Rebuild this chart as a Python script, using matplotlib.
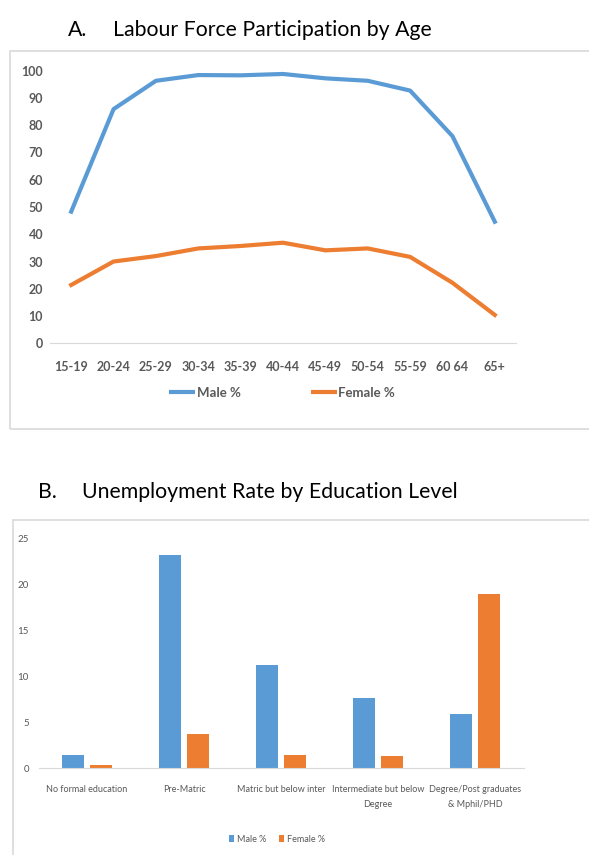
import matplotlib.pyplot as plt
from matplotlib.patches import Rectangle

# age groups and participation rates (%)
age_groups = ['15-19', '20-24', '25-29', '30-34', '35-39', '40-44',
              '45-49', '50-54', '55-59', '60 64', '65+']
male_lfp = [48.3, 85.9, 96.3, 98.4, 98.3, 98.8, 97.2, 96.3, 92.7, 76.0, 44.6]
female_lfp = [21.4, 30.0, 32.0, 34.8, 35.7, 36.9, 34.1, 34.8, 31.7, 22.2, 10.4]

# education levels and unemployment rates (%)
edu_levels = ['No formal education', 'Pre-Matric', 'Matric but below inter',
              'Intermediate but below\nDegree', 'Degree/Post graduates\n& Mphil/PHD']
male_unemp = [1.4, 23.2, 11.2, 7.6, 5.9]
female_unemp = [0.4, 3.7, 1.5, 1.3, 19.0]

BLUE = '#5B9BD5'
ORANGE = '#ED7D31'
GREY = '#595959'
W, H = 589, 855

plt.rcParams['font.family'] = ['Lato', 'DejaVu Sans']

fig = plt.figure(figsize=(W / 100, H / 100), dpi=100)


def px_axes(x0, y0, x1, y1):
    # axes from pixel box (top-left origin)
    return fig.add_axes([x0 / W, 1 - y1 / H, (x1 - x0) / W, (y1 - y0) / H])


def px_box(x0, y0, x1, y1):
    fig.patches.append(Rectangle((x0 / W, 1 - y1 / H), (x1 - x0) / W, (y1 - y0) / H,
                                 transform=fig.transFigure, fill=False,
                                 edgecolor='#D9D9D9', linewidth=1.2))


def title(x_letter, x_text, y, letter, text):
    fig.text(x_letter / W, 1 - y / H, letter, fontsize=15.3, va='center', color='black')
    fig.text(x_text / W, 1 - y / H, text, fontsize=15.3, va='center', color='black')


# ---- A. line chart ----
title(68, 113, 30, 'A.', 'Labour Force Participation by Age')
px_box(10, 51, 600, 429)

ax1 = px_axes(50, 70.7, 516, 343.3)
x = range(len(age_groups))
ax1.plot(x, male_lfp, color=BLUE, lw=3, label='Male %', solid_joinstyle='round')
ax1.plot(x, female_lfp, color=ORANGE, lw=3, label='Female %', solid_joinstyle='round')
ax1.set_xlim(-0.5, len(age_groups) - 0.5)
ax1.set_ylim(0, 100)
ax1.set_yticks(range(0, 101, 10))
ax1.set_xticks(list(x))
ax1.set_xticklabels(age_groups)
for s in ['top', 'right', 'left']:
    ax1.spines[s].set_visible(False)
ax1.spines['bottom'].set_color('#D9D9D9')
ax1.tick_params(length=0, colors=GREY, labelsize=9)
ax1.tick_params(axis='y', pad=5)
ax1.tick_params(axis='x', pad=13)
for lbl in ax1.get_xticklabels() + ax1.get_yticklabels():
    lbl.set_fontweight('bold')
leg1 = ax1.legend(loc='center', bbox_to_anchor=(282 / W, 1 - 393 / H),
                  bbox_transform=fig.transFigure, ncol=2, frameon=False,
                  handlelength=2.0, columnspacing=5.3, handletextpad=0.1,
                  prop={'size': 9.5, 'weight': 'bold'})
for t in leg1.get_texts():
    t.set_color(GREY)
for h in leg1.get_lines():
    h.set_solid_capstyle('butt')

# ---- B. bar chart ----
title(38, 82, 492, 'B.', 'Unemployment Rate by Education Level')
px_box(13, 520, 600, 870)

ax2 = px_axes(38.5, 538.3, 523.5, 768.3)
xb = range(len(edu_levels))
bw = 0.224
ax2.bar([i - 0.146 for i in xb], male_unemp, width=bw, color=BLUE, label='Male %')
ax2.bar([i + 0.146 for i in xb], female_unemp, width=bw, color=ORANGE, label='Female %')
ax2.set_xlim(-0.5, len(edu_levels) - 0.5)
ax2.set_ylim(0, 25)
ax2.set_yticks(range(0, 26, 5))
ax2.set_xticks(list(xb))
ax2.set_xticklabels(edu_levels, linespacing=1.9, fontsize=6.5)
ax2.set_yticklabels([str(v) for v in range(0, 26, 5)], fontsize=7)
for s in ['top', 'right', 'left']:
    ax2.spines[s].set_visible(False)
ax2.spines['bottom'].set_color('#D9D9D9')
ax2.tick_params(length=0, colors=GREY)
ax2.tick_params(axis='y', pad=7)
ax2.tick_params(axis='x', pad=12)
leg2 = ax2.legend(loc='center', bbox_to_anchor=(277 / W, 1 - 839 / H),
                  bbox_transform=fig.transFigure, ncol=2, frameon=False,
                  handlelength=0.6, handleheight=0.9, columnspacing=1.4,
                  handletextpad=0.3, prop={'size': 6.5})
for t in leg2.get_texts():
    t.set_color(GREY)

fig.savefig('out.png', dpi=100)
